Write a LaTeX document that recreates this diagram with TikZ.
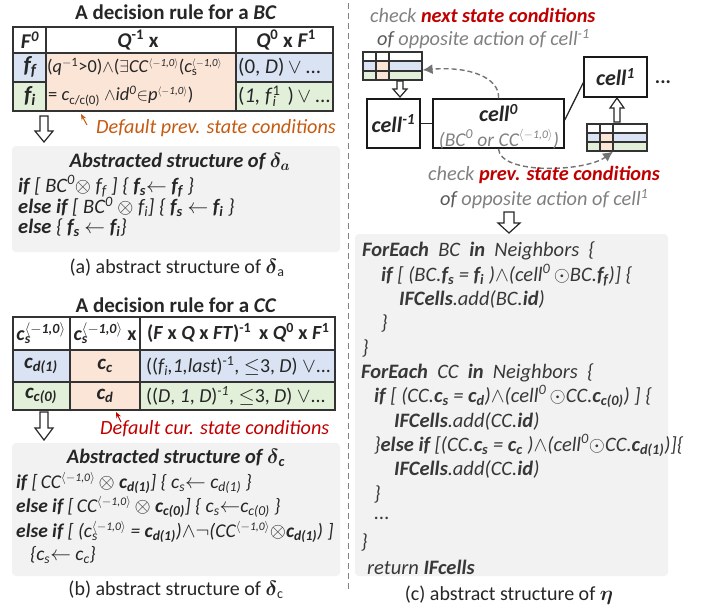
\documentclass[tikz,border=0pt]{standalone}
\usepackage{fontspec}
\setmainfont{Carlito}
\usepackage{amsmath}
\usepackage{graphicx}
\usetikzlibrary{arrows.meta}
\definecolor{cblue}{HTML}{DAE3F3}
\definecolor{cgreen}{HTML}{E2F0D9}
\definecolor{corange}{HTML}{FBE5D6}
\definecolor{cgraybox}{HTML}{F2F2F2}
\definecolor{cred}{HTML}{C00000}
\definecolor{corg}{HTML}{C55A11}
\definecolor{cgrey}{HTML}{808080}
\definecolor{cdgrey}{HTML}{595959}
\newcommand\up[1]{\textsuperscript{#1}}
\newcommand\dn[1]{\textsubscript{#1}}
\newcommand\angtxt{\scalebox{0.85}{$\langle$\textit{$-$1,0}$\rangle$}}
\newcommand\angsup{\textsuperscript{\angtxt}}
\newcommand\supsub[2]{\rlap{\textsubscript{#1}}\textsuperscript{#2}}
\newcommand\wsp{\hspace{0.45em}}
\newcommand\hollowarrow[6]{\draw[hollow] (#1-#5,#2) -- (#1+#5,#2) -- (#1+#5,#3) -- (#1+#6,#3) -- (#1,#4) -- (#1-#6,#3) -- (#1-#5,#3) -- cycle;}
\tikzset{
 every node/.style={inner sep=0pt, text=black!85},
 txa/.style={anchor=west, font=\fontsize{20.5}{22}\selectfont\itshape},
 txb/.style={anchor=west, font=\fontsize{19.5}{22}\selectfont\itshape},
 cx/.style={anchor=west, font=\fontsize{20.5}{22}\selectfont\itshape, text=black!78},
 tt/.style={font=\fontsize{19}{22}\selectfont},
 ttl/.style={font=\fontsize{21}{24}\selectfont\bfseries},
 captxt/.style={font=\fontsize{20}{24}\selectfont},
 tbl/.style={line width=1.6pt, draw=black!80},
 hollow/.style={line width=1.2pt, draw=black!85, fill=white},
 gbox/.style={fill=cgraybox, rounded corners=4pt},
 dsh/.style={dash pattern=on 5pt off 3pt, line width=1.4pt, draw=black!55, -{Latex[length=10pt,width=10pt]}},
 cellbox/.style={draw=black!90, line width=1.5pt, font=\fontsize{22}{24}\selectfont\bfseries\itshape},
 grey/.style={anchor=west, font=\fontsize{20.3}{22}\selectfont\itshape, text=cgrey},
 redlbl/.style={anchor=west, font=\fontsize{20.2}{22}\selectfont\itshape},
 minitbl/.style={line width=1.2pt, draw=black!80},
}
\begin{document}
\begin{tikzpicture}[x=1pt,y=-1pt]
\useasboundingbox (0,0) rectangle (704,611);
% ---------- divider
\draw[cgrey, line width=1pt, dash pattern=on 6pt off 4pt] (348,3) -- (348,590);

% ================= panel (a)
\node[ttl] (ta) at (176,12) {A decision rule for a \textit{BC}};
\fill[cblue] (13,53) rectangle (46,82);
\fill[cgreen] (13,82) rectangle (46,111);
\fill[corange] (46,53) rectangle (236,111);
\fill[cblue] (236,53) rectangle (333,82);
\fill[cgreen] (236,82) rectangle (333,111);
\draw[tbl] (13,27) rectangle (333,111);
\draw[tbl] (13,53) -- (333,53);
\draw[tbl] (13,82) -- (46,82);
\draw[tbl] (236,82) -- (333,82);
\draw[tbl] (46,27) -- (46,111);
\draw[tbl] (236,27) -- (236,111);
\node[tt,font=\fontsize{21}{22}\selectfont\bfseries] (ha1) at (30,40) {\textit{F}\up{\textit{0}}};
\node[tt,font=\fontsize{21}{22}\selectfont\bfseries] (ha2) at (138,40) {\textit{Q}\up{-1} x};
\node[tt,font=\fontsize{21}{22}\selectfont\bfseries] (ha3) at (286,40) {\textit{Q}\up{0} x \textit{F}\up{1}};
\node[tt,font=\fontsize{23}{22}\selectfont\bfseries\itshape] (ra1) at (30,67) {f\dn{f}};
\node[tt,font=\fontsize{23}{22}\selectfont\bfseries\itshape] (ra2) at (30,96) {f\dn{i}};
\node[tt,anchor=west,font=\fontsize{18.3}{20}\selectfont] (ra3) at (47,67) {(\textit{q}\up{$-$1}>0)$\wedge$($\exists$\textit{CC}\angsup(\textit{c}\supsub{s}{\angtxt}};
\node[tt,anchor=west,font=\fontsize{18.5}{20}\selectfont] (ra4) at (48,96) {= \textit{c}\dn{c/c(0)} $\wedge$\textit{id}\up{\textit{0}}$\in$\textit{p}\angsup)};
\node[tt,anchor=west,font=\fontsize{21}{22}\selectfont] (ra5) at (238,67) {(0, \textit{D})\,$\vee$\,...};
\node[tt,anchor=west,font=\fontsize{21}{22}\selectfont] (ra6) at (238,96) {(\textit{1, f}\supsub{\textit{i}}{1}\,\,)\,$\vee$\,...};
\coordinate (pa1) at (87,125);
\coordinate (pa2) at (81,114);
\draw[corg, line width=1pt, -{Stealth[length=6pt,width=5pt]}] (pa1) -- (pa2);
\node[redlbl,text=corg] (la) at (96,128) {Default prev. state conditions};
\hollowarrow{44}{116}{131}{142}{4}{9}
\fill[gbox] (12,146) rectangle (340,252);
\node[font=\fontsize{20.5}{22}\selectfont\bfseries\itshape] (sa) at (180,162) {Abstracted structure of $\boldsymbol{\delta_a}$};
\node[txa] (a1) at (18,186) {\textbf{if} [ BC\up{0}$\otimes$ f\dn{f} ] \{ \textbf{f\dn{s}}$\leftarrow$ \textbf{f\dn{f}} \}};
\node[txa] (a2) at (18,207) {\textbf{else if} [ BC\up{0} $\otimes$ f\dn{i}] \{ \textbf{f\dn{s}} $\leftarrow$ \textbf{f\dn{i}} \}};
\node[txa] (a3) at (18,228) {\textbf{else} \{ \textbf{f\dn{s}} $\leftarrow$ \textbf{f\dn{i}}\}};
\node[captxt] (capa) at (177,268) {(a) abstract structure of $\boldsymbol{\delta}$\dn{a}};

% ================= panel (b)
\node[ttl] (tb) at (176,305) {A decision rule for a \textit{CC}};
\fill[cblue] (13,350) rectangle (70,382);
\fill[cgreen] (13,382) rectangle (70,410);
\fill[corange] (70,350) rectangle (140,410);
\fill[cblue] (140,350) rectangle (335,382);
\fill[cgreen] (140,382) rectangle (335,410);
\draw[tbl] (13,317) rectangle (335,410);
\draw[tbl] (13,350) -- (335,350);
\draw[tbl] (13,382) -- (335,382);
\draw[tbl] (70,317) -- (70,410);
\draw[tbl] (140,317) -- (140,410);
\node[tt,font=\fontsize{20}{20}\selectfont\bfseries] (hb1) at (41,333) {\textit{c}\supsub{\textit{s}}{$\langle$\textit{$-$1,0}$\rangle$}};
\node[tt,font=\fontsize{20}{20}\selectfont\bfseries] (hb2) at (105,333) {\textit{c}\supsub{\textit{s}}{$\langle$\textit{$-$1,0}$\rangle$} x};
\node[tt,font=\fontsize{20}{20}\selectfont\bfseries,anchor=west] (hb3) at (147,333) {(\textit{F} x \textit{Q} x \textit{FT})\up{-1}\, x \textit{Q}\up{0} x \textit{F}\up{1}};
\node[tt,font=\fontsize{21}{22}\selectfont\bfseries\itshape] (rb1) at (41,366) {c\dn{d(1)}};
\node[tt,font=\fontsize{21}{22}\selectfont\bfseries\itshape] (rb2) at (41,396) {c\dn{c(0)}};
\node[tt,font=\fontsize{21}{22}\selectfont\bfseries\itshape] (rb3) at (105,366) {c\dn{c}};
\node[tt,font=\fontsize{21}{22}\selectfont\bfseries\itshape] (rb4) at (105,396) {c\dn{d}};
\node[tt,anchor=west,font=\fontsize{19.8}{20}\selectfont] (rb5) at (146,366) {((\textit{f\dn{i},1,last})\up{-1}, $\le$3, \textit{D}) $\vee$...};
\node[tt,anchor=west,font=\fontsize{19.8}{20}\selectfont] (rb6) at (146,396) {((\textit{D}, \textit{1}, \textit{D})\up{\textit{-1}}, $\le$3, \textit{D}) $\vee$...};
\coordinate (pb1) at (121,422);
\coordinate (pb2) at (116,412);
\draw[cred, line width=1pt, -{Stealth[length=6pt,width=5pt]}] (pb1) -- (pb2);
\node[redlbl,text=cred] (lb) at (100,429) {Default cur. state conditions};
\hollowarrow{44}{412}{428}{440}{4}{9}
\fill[gbox] (12,443) rectangle (340,576);
\node[font=\fontsize{20.5}{22}\selectfont\bfseries\itshape] (sb) at (176,458) {Abstracted structure of $\boldsymbol{\delta}$\dn{c}};
\node[txb] (b1) at (16,483) {\textbf{if} [\,CC\angsup\,$\otimes$ \textbf{c\dn{d(1)}}] \{ c\dn{s}$\leftarrow$ c\dn{d(1)} \}};
\node[txb] (b2) at (16,507) {\textbf{else if} [\,CC\angsup\,$\otimes$ \textbf{c\dn{c(0)}}] \{ c\dn{s}$\leftarrow$c\dn{c(0)} \}};
\node[txb] (b3) at (16,532) {\textbf{else if} [ (c\supsub{s}{\angtxt} = \textbf{c\dn{d(1)}})$\wedge\neg$(CC\angsup$\otimes$\textbf{c\dn{d(1)}}) ]};
\node[txb] (b4) at (30,555) {\{c\dn{s}$\leftarrow$ c\dn{c}\}};
\node[captxt] (capb) at (176,590) {(b) abstract structure of $\boldsymbol{\delta}$\dn{c}};

% ================= panel (c)
\node[grey] (c1) at (370,15) {check \textbf{\textcolor{cred}{next state conditions}}};
\node[grey] (c2) at (377,39) {\textcolor{cdgrey}{of} opposite action of cell\up{-1}};
% mini table left
\fill[cblue] (363,61) rectangle (422,71);
\fill[cgreen] (363,71) rectangle (422,80);
\fill[corange] (376,61) rectangle (389,80);
\node[minitbl, minimum width=59pt, minimum height=28pt] (mtL) at (392.5,66) {};
\draw[minitbl] (363,61) -- (422,61) (363,71) -- (422,71) (376,52) -- (376,80) (389,52) -- (389,80);
\hollowarrow{400}{81}{89}{97}{3}{7}
% mini table right
\fill[cblue] (587,133) rectangle (647,142);
\fill[cgreen] (587,142) rectangle (647,151);
\fill[corange] (600,133) rectangle (613,151);
\node[minitbl, minimum width=60pt, minimum height=27pt] (mtR) at (617,137.5) {};
\draw[minitbl] (587,133) -- (647,133) (587,142) -- (647,142) (600,124) -- (600,151) (613,124) -- (613,151);
\hollowarrow{617}{122}{108}{98}{3}{7}
% cells
\node[cellbox, minimum width=53pt, minimum height=49pt] (cellm) at (393.5,123.5) {cell\up{-1}};
\node[cellbox, minimum width=131pt, minimum height=49pt] (cell0) at (498.5,123.5) {};
\node[font=\fontsize{22}{24}\selectfont\bfseries\itshape] (c0t) at (498.5,113) {cell\up{0}};
\node[font=\fontsize{19.5}{22}\selectfont\itshape, text=cgrey] (c0s) at (499,139) {(BC\up{0} or CC\angsup)};
\node[cellbox, minimum width=63pt, minimum height=40pt] (cell1) at (615.5,77) {cell\up{1}};
\node[font=\fontsize{20}{22}\selectfont\bfseries] (dots) at (663,82) {...};
\draw[line width=1.3pt, black!85] (cellm.east) -- (cell0.west);
\draw[line width=1.3pt, black!85] (cell0.3) -- (cell1.190);
\draw[dsh] (cell0.north) .. controls (500,78) and (470,66) .. ([yshift=-4pt]mtL.east);
\draw[dsh] (cell0.south) .. controls (500,175) and (585,172) .. ([xshift=-4pt]mtR.south);
\node[grey] (c3) at (428,175) {check \textbf{\textcolor{cred}{prev. state conditions}}};
\node[grey] (c4) at (440,199) {\textcolor{cdgrey}{of} opposite action of cell\up{1}};
\hollowarrow{509}{212}{223}{233}{5}{11}
\fill[gbox] (355,234) rectangle (668,576);
\node[cx] (l1) at (362,251) {\textbf{ForEach}\wsp BC\wsp\textbf{in}\wsp Neighbors\wsp\{};
\node[cx] (l2) at (381,275.3) {\textbf{if} [ (BC.\textbf{f\dn{s}} = \textbf{f\dn{i}} )$\wedge$(cell\up{0}\,$\odot$BC.\textbf{f\dn{f}})] \{};
\node[cx] (l3) at (399,299.6) {\textbf{IFCells}.add(BC.\textbf{id})};
\node[cx] (l4) at (381,323.9) {\}};
\node[cx] (l5) at (362,348.2) {\}};
\node[cx] (l6) at (361,372.5) {\textbf{ForEach}\wsp CC\wsp\textbf{in}\wsp Neighbors\wsp\{};
\node[cx] (l7) at (374,396.8) {\textbf{if} [ (CC.\textbf{c\dn{s}} = \textbf{c\dn{d}})$\wedge$(cell\up{0}\,$\odot$CC.\textbf{c\dn{c(0)}}) ] \{};
\node[cx] (l8) at (394,421.1) {\textbf{IFCells}.add(CC.\textbf{id})};
\node[cx] (l9) at (374,445.4) {\}\textbf{else if} [(CC.\textbf{c\dn{s}} = \textbf{c\dn{c}} )$\wedge$(cell\up{0}$\odot$CC.\textbf{c\dn{d(1)}})]\{};
\node[cx] (l10) at (394,469.7) {\textbf{IFCells}.add(CC.\textbf{id})};
\node[cx] (l11) at (374,494) {\}};
\node[cx] (l12) at (374,518.3) {...};
\node[cx] (l13) at (361,542.6) {\}};
\node[cx] (l14) at (367,566.9) {return \textbf{IFcells}};
\node[captxt] (capc) at (509,595) {(c) abstract structure of $\boldsymbol{\eta}$};
\end{tikzpicture}
\end{document}
